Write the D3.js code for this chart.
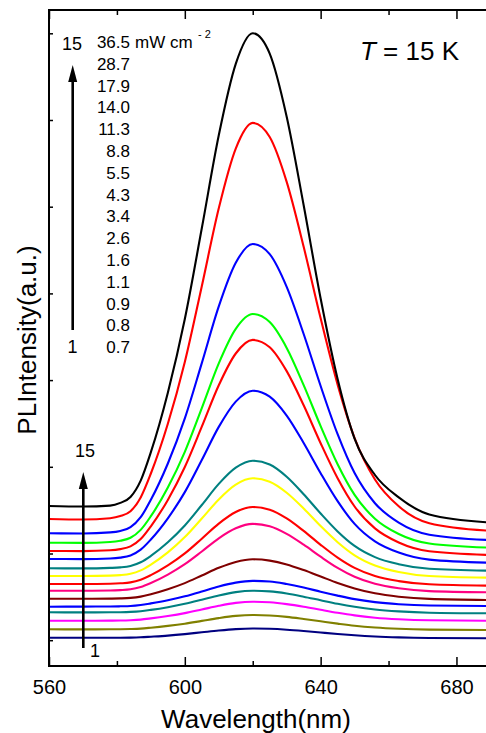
<!DOCTYPE html>
<html>
<head>
<meta charset="utf-8">
<script src="https://cdn.jsdelivr.net/npm/d3@7"></script>
<style>
  body { margin: 0; background: #fff; }
  svg { display: block; font-family: Arial, "Liberation Sans", sans-serif; }
</style>
</head>
<body>
<svg id="chart" width="486" height="733"></svg>
<script>
// wavelength samples (nm) shared by every spectrum
const wavelength = [560, 570, 578, 581, 584, 587, 590, 595, 600, 605, 610, 615, 620, 625, 630, 635, 640, 645, 650, 656, 663, 672, 690];

// PL spectra, bottom (1) to top, arbitrary units
const c01 = [28.3, 28.3, 28.3, 28.3, 28.4, 28.7, 29.3, 30.4, 31.9, 33.7, 35.5, 36.9, 37.5, 37.2, 36.3, 35.0, 33.5, 32.0, 30.7, 29.5, 28.6, 28.0, 27.7];
const c02 = [36.7, 36.6, 36.7, 36.8, 37.0, 37.4, 38.3, 40.1, 42.3, 45.1, 47.9, 50.1, 51.0, 50.5, 49.1, 47.0, 44.7, 42.4, 40.3, 38.5, 37.2, 36.4, 36.0];
const c03 = [45.3, 45.3, 45.4, 45.5, 45.8, 46.4, 47.6, 50.0, 52.9, 56.5, 60.2, 63.1, 64.3, 63.7, 61.9, 59.3, 56.2, 53.2, 50.6, 48.3, 46.7, 45.7, 45.3];
const c04 = [53.7, 53.6, 53.7, 53.8, 54.1, 54.8, 56.1, 58.8, 62.2, 66.3, 70.6, 73.9, 75.2, 74.6, 72.5, 69.3, 65.7, 62.2, 59.2, 56.5, 54.6, 53.3, 52.7];
const c05 = [59.3, 59.4, 59.5, 59.7, 60.0, 61.0, 62.6, 65.7, 69.7, 74.5, 79.6, 83.4, 85.1, 84.5, 82.0, 78.5, 74.3, 70.4, 66.9, 63.9, 61.8, 60.5, 60.0];
const c06 = [67.3, 67.2, 67.4, 67.6, 68.1, 69.4, 71.8, 76.8, 82.9, 90.5, 98.2, 104.1, 106.7, 105.4, 101.6, 95.9, 89.5, 83.0, 77.6, 72.7, 69.3, 67.1, 66.0];
const c07 = [75.3, 75.3, 75.5, 75.9, 76.7, 79.0, 83.0, 91.4, 101.8, 114.5, 127.7, 137.7, 142.1, 139.7, 132.1, 121.3, 109.3, 98.1, 89.2, 82.2, 77.7, 74.9, 73.7];
const c08 = [82.0, 82.0, 82.3, 82.7, 83.6, 86.3, 90.9, 100.6, 112.6, 127.3, 142.4, 154.0, 159.0, 156.3, 147.6, 135.1, 121.2, 108.4, 98.1, 90.0, 84.9, 81.7, 80.3];
const c09 = [90.0, 90.0, 90.4, 90.9, 92.2, 95.6, 101.4, 113.6, 128.9, 147.5, 166.6, 181.4, 187.7, 184.3, 173.3, 157.5, 139.9, 123.8, 110.7, 100.5, 94.0, 90.0, 88.3];
const c10 = [97.7, 97.6, 98.1, 98.6, 100.0, 103.7, 110.1, 123.7, 140.5, 161.0, 182.1, 198.3, 205.3, 201.5, 189.3, 171.8, 152.5, 134.6, 120.1, 108.9, 101.8, 97.2, 95.3];
const c11 = [107.0, 106.9, 107.5, 108.4, 110.6, 116.4, 126.5, 147.7, 173.9, 206.0, 239.1, 264.4, 275.3, 269.3, 250.4, 223.0, 192.8, 164.8, 142.1, 124.6, 113.4, 106.4, 103.3];
const c12 = [115.0, 114.9, 115.7, 116.9, 119.6, 126.9, 139.7, 166.1, 199.0, 239.3, 280.7, 312.5, 326.1, 318.8, 294.9, 260.7, 222.8, 187.8, 159.5, 137.6, 123.5, 114.7, 111.0];
const c13 = [123.3, 123.1, 124.0, 125.3, 128.2, 136.1, 149.8, 178.5, 214.2, 257.9, 302.7, 337.2, 352.0, 343.9, 318.1, 280.9, 239.9, 201.8, 171.1, 147.3, 132.0, 122.5, 118.3];
const c14 = [132.7, 132.5, 133.6, 135.1, 138.8, 148.8, 166.2, 202.5, 247.6, 302.9, 359.6, 403.2, 422.0, 411.8, 379.1, 332.0, 280.0, 231.8, 192.9, 162.8, 143.4, 131.3, 125.9];
const c15 = [147.0, 146.5, 147.8, 149.9, 154.8, 168.6, 192.5, 242.2, 304.0, 379.8, 457.7, 517.4, 543.1, 529.0, 484.1, 419.2, 347.7, 281.4, 227.9, 186.5, 159.7, 142.8, 135.2];
const c16 = [160.0, 159.5, 160.4, 163.1, 169.0, 185.4, 213.8, 273.3, 347.0, 437.7, 530.7, 602.1, 632.7, 612.4, 549.3, 460.8, 367.5, 287.0, 227.4, 191.0, 168.6, 151.6, 143.5];

// excitation power densities (mW cm-2), top to bottom
const powerLabels = ["36.5", "28.7", "17.9", "14.0", "11.3", "8.8", "5.5", "4.3", "3.4", "2.6", "1.6", "1.1", "0.9", "0.8", "0.7"];

const xMajor = [560, 600, 640, 680];
const xMinor = [580, 620, 660];

const series = [c01, c02, c03, c04, c05, c06, c07, c08, c09, c10, c11, c12, c13, c14, c15, c16];
const lineColors = ["#000080", "#808000", "#ff00ff", "#008080", "#0000ff", "#800000", "#ff0080", "#ff0000",
                    "#ffff00", "#008080", "#0000ff", "#ff0000", "#00ff00", "#0000ff", "#ff0000", "#000000"];

const svg = d3.select("#chart");
const plotL = 49, plotR = 486, plotT = 10, plotB = 666;

const x = d3.scaleLinear().domain([560, 688.7]).range([plotL, plotR]);
const y = d3.scaleLinear().domain([0, 656]).range([plotB, plotT]);

// clip so spectra stop at the frame
svg.append("clipPath").attr("id", "plotClip")
  .append("rect").attr("x", plotL).attr("y", plotT).attr("width", plotR - plotL).attr("height", plotB - plotT);

const line = d3.line()
  .x((d, i) => x(wavelength[i]))
  .y(d => y(d))
  .curve(d3.curveMonotoneX);

svg.append("g").attr("clip-path", "url(#plotClip)")
  .selectAll("path")
  .data(series)
  .enter()
  .append("path")
  .attr("d", line)
  .attr("fill", "none")
  .attr("stroke", (d, i) => lineColors[i])
  .attr("stroke-width", 2.1);

// axes: inward ticks
function styleAxis(g) {
  g.select(".domain").remove();
  g.selectAll(".tick line").attr("stroke", "#000").attr("stroke-width", 1.5);
}

svg.append("g")
  .attr("transform", "translate(0," + plotB + ")")
  .call(d3.axisBottom(x).tickValues(xMajor).tickSize(-9).tickPadding(14).tickFormat(d3.format("d")))
  .call(styleAxis)
  .selectAll("text")
  .attr("font-size", "20px")
  .attr("font-family", "Arial, 'Liberation Sans', sans-serif")
  .attr("fill", "#000");

svg.append("g")
  .attr("transform", "translate(0," + plotB + ")")
  .call(d3.axisBottom(x).tickValues(xMinor).tickSize(-5).tickFormat(""))
  .call(styleAxis);

svg.append("g")
  .attr("transform", "translate(0," + plotT + ")")
  .call(d3.axisTop(x).tickValues(xMajor).tickSize(-9).tickFormat(""))
  .call(styleAxis);

svg.append("g")
  .attr("transform", "translate(0," + plotT + ")")
  .call(d3.axisTop(x).tickValues(xMinor).tickSize(-5).tickFormat(""))
  .call(styleAxis);

svg.append("g")
  .attr("transform", "translate(" + plotL + ",0)")
  .call(d3.axisLeft(y).tickValues(d3.range(25.8, 650, 86.7)).tickSize(-4).tickFormat(""))
  .call(styleAxis);

// frame (right side falls outside the window)
svg.append("path")
  .attr("d", "M" + plotR + "," + plotT + "H" + plotL + "V" + plotB + "H" + plotR)
  .attr("fill", "none")
  .attr("stroke", "#000")
  .attr("stroke-width", 2);

// axis titles
svg.append("text")
  .attr("x", 256).attr("y", 728)
  .attr("text-anchor", "middle")
  .attr("font-size", "26px")
  .text("Wavelength(nm)");

svg.append("text")
  .attr("transform", "translate(36,340) rotate(-90)")
  .attr("text-anchor", "middle")
  .attr("font-size", "26px")
  .text("PLIntensity(a.u.)");

// temperature
const tLabel = svg.append("text")
  .attr("x", 360).attr("y", 60)
  .attr("font-size", "26px");
tLabel.append("tspan").attr("font-style", "italic").text("T");
tLabel.append("tspan").text(" = 15 K");

// power density list
svg.append("g").selectAll("text")
  .data(powerLabels)
  .enter()
  .append("text")
  .attr("x", 130)
  .attr("y", (d, i) => 48 + i * 21.8)
  .attr("text-anchor", "end")
  .attr("font-size", "17px")
  .text(d => d);

svg.append("text")
  .attr("x", 135).attr("y", 48)
  .attr("font-size", "17px")
  .text("mW cm");
svg.append("text")
  .attr("x", 198).attr("y", 38)
  .attr("font-size", "11px")
  .text("- 2");

// arrows
function arrow(xa, y0, y1) {
  svg.append("line")
    .attr("x1", xa).attr("x2", xa)
    .attr("y1", y0).attr("y2", y1 + 14)
    .attr("stroke", "#000").attr("stroke-width", 2.6);
  svg.append("path")
    .attr("d", "M" + xa + "," + y1 + "L" + (xa - 4.5) + "," + (y1 + 17) + "L" + (xa + 4.5) + "," + (y1 + 17) + "Z")
    .attr("fill", "#000");
}

arrow(72.7, 330, 65);
svg.append("text").attr("x", 72).attr("y", 50).attr("text-anchor", "middle").attr("font-size", "18px").text("15");
svg.append("text").attr("x", 72.5).attr("y", 353).attr("text-anchor", "middle").attr("font-size", "18px").text("1");

arrow(83.3, 648, 472);
svg.append("text").attr("x", 85).attr("y", 457).attr("text-anchor", "middle").attr("font-size", "18px").text("15");
svg.append("text").attr("x", 95).attr("y", 657).attr("text-anchor", "middle").attr("font-size", "18px").text("1");
</script>
</body>
</html>
